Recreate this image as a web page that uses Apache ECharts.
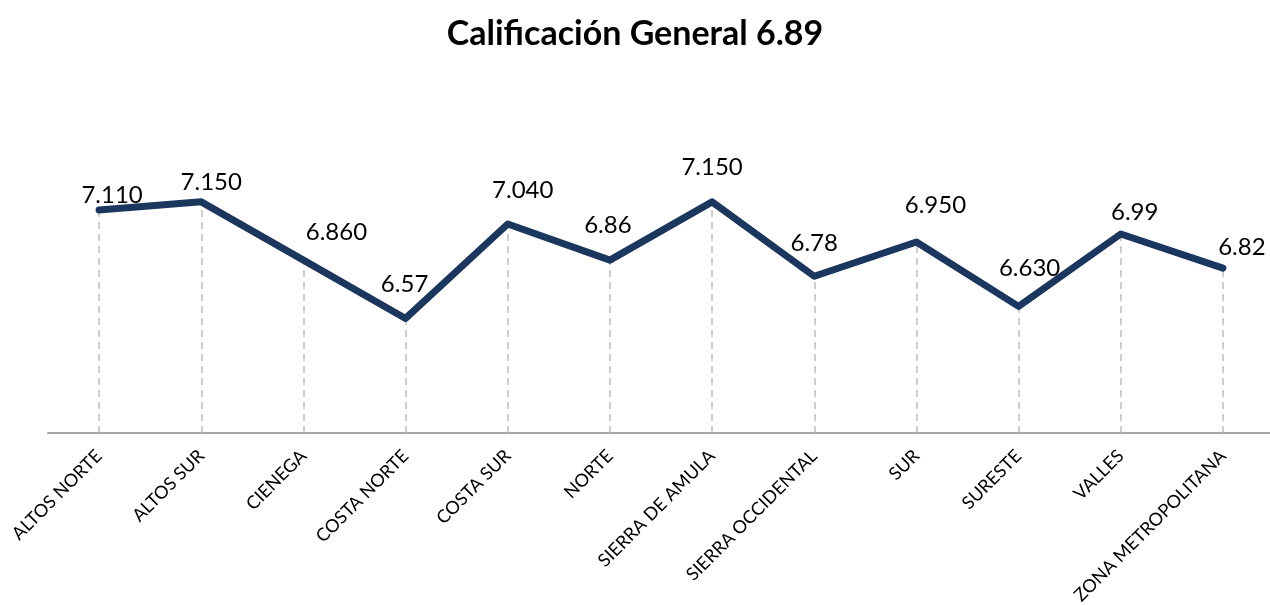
<!DOCTYPE html>
<html><head><meta charset="utf-8">
<script src="https://cdn.jsdelivr.net/npm/echarts@6/dist/echarts.min.js"></script>
<style>html,body{margin:0;padding:0;background:#fff}#c{width:1270px;height:605px}</style>
</head><body><div id="c"></div>
<script>
const categories = ["ALTOS NORTE","ALTOS SUR","CIENEGA","COSTA NORTE","COSTA SUR","NORTE","SIERRA DE AMULA","SIERRA OCCIDENTAL","SUR","SURESTE","VALLES","ZONA METROPOLITANA"];
const values = [7.11, 7.15, 6.86, 6.57, 7.04, 6.86, 7.15, 6.78, 6.95, 6.63, 6.99, 6.82];
const valueLabels = ["7.110","7.150","6.860","6.57","7.040","6.86","7.150","6.78","6.950","6.630","6.99","6.82"];
const titleText = "Calificación General 6.89";
const yMin = 6, yMax = 7.6;
// label placement offsets (px) relative to each point, as in the reference
const labelOffsets = [[13,-15],[10,-20],[33,-28],[-1,-34],[15,-34],[-2,-35],[0,-35],[0,-33],[19,-37],[11,-38],[14,-22],[19,-21]];

const chart = echarts.init(document.getElementById('c'), null, {renderer:'canvas'});
chart.setOption({
  animation:false,
  title:{text:titleText,left:'center',top:12,textStyle:{fontFamily:'Lato',fontWeight:'bold',fontSize:34,color:'#000'}},
  grid:{left:48,width:1226,top:111.4,height:321.6,containLabel:false,outerBoundsMode:'none'},
  xAxis:{type:'category',data:categories,boundaryGap:true,
    axisLine:{lineStyle:{color:'#a6a6a6',width:2}},
    axisTick:{alignWithLabel:true,inside:true,length:5,lineStyle:{color:'#bfbfbf',width:2}},
    axisLabel:{rotate:45,interval:0,margin:20,fontFamily:'Lato',fontSize:18,color:'#000'},
    splitLine:{show:false}},
  yAxis:{type:'value',min:yMin,max:yMax,show:false,splitLine:{show:false}},
  series:[{
    type:'line',
    data:values.map((v,i)=>({value:v,label:{offset:labelOffsets[i]}})),
    symbol:'circle',symbolSize:1,showSymbol:true,
    itemStyle:{color:'#1c375e'},
    lineStyle:{color:'#1c375e',width:7,cap:'round',join:'round'},
    label:{show:true,position:'inside',align:'center',verticalAlign:'middle',fontFamily:'Lato',fontSize:24,color:'#000',
      formatter:p=>valueLabels[p.dataIndex]},
    markLine:{silent:true,symbol:'none',label:{show:false},z:1,
      lineStyle:{color:'#bfbfbf',type:[7,5],width:1.5},
      data:values.map((v,i)=>[{coord:[i,yMin]},{coord:[i,v]}])},
    z:3
  }]
});
</script></body></html>
